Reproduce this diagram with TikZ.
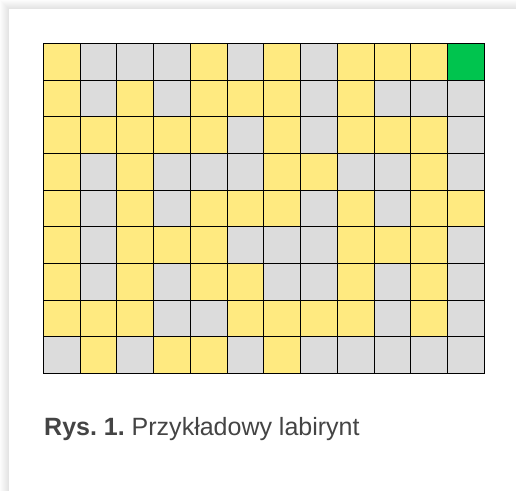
\documentclass[tikz,border=0pt]{standalone}
\usepackage{fontspec}
\setmainfont{Liberation Sans}
\frenchspacing
\definecolor{cellY}{HTML}{FFEA80}
\definecolor{cellG}{HTML}{DCDCDC}
\definecolor{cellE}{HTML}{00C44E}
\definecolor{captxt}{HTML}{444444}
\tikzset{
  cell/.style={draw=black,line width=0.9pt,minimum width=36.75pt,minimum height=36.67pt,inner sep=0pt,outer sep=0pt,anchor=north west},
  Y/.style={cell,fill=cellY},
  G/.style={cell,fill=cellG},
  E/.style={cell,fill=cellE},
  caption/.style={anchor=base west,inner sep=0pt,text=captxt,font=\fontsize{25}{29}\selectfont}
}
\begin{document}
\begin{tikzpicture}[x=1pt,y=-1pt]
\useasboundingbox (0,0) rectangle (516,490);
\fill[white] (0,0) rectangle (516,490);
\foreach \i in {0,...,8} {
  \fill[black,opacity=0.012] (\i,\i) rectangle (530,500);
}
\fill[white] (8.5,8.5) rectangle (530,500);
\foreach \rowspec [count=\r from 0] in {
  {Y,G,G,G,Y,G,Y,G,Y,Y,Y,E},
  {Y,G,Y,G,Y,Y,Y,G,Y,G,G,G},
  {Y,Y,Y,Y,Y,G,Y,G,Y,Y,Y,G},
  {Y,G,Y,G,G,G,Y,Y,G,G,Y,G},
  {Y,G,Y,G,Y,Y,Y,G,Y,G,Y,Y},
  {Y,G,Y,Y,Y,G,G,G,Y,Y,Y,G},
  {Y,G,Y,G,Y,Y,G,G,Y,G,Y,G},
  {Y,Y,Y,G,G,Y,Y,Y,Y,G,Y,G},
  {G,Y,G,Y,Y,G,Y,G,G,G,G,G}} {
  \foreach \t [count=\c from 0] in \rowspec {
    \node[\t] (c-\r-\c) at (43.3+36.75*\c, 43.3+36.67*\r) {};
  }
}
\node[caption] (cap) at (44,435) {\textbf{Rys.\ 1.}\ Przykładowy labirynt};
\end{tikzpicture}
\end{document}
